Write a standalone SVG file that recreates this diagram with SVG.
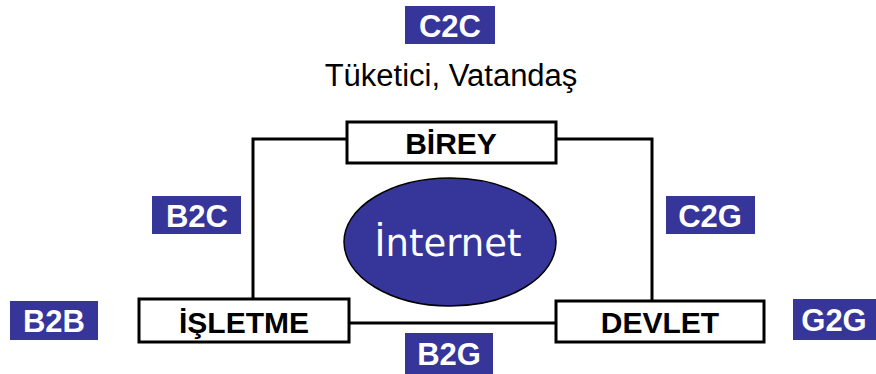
<svg xmlns="http://www.w3.org/2000/svg" width="876" height="374" viewBox="0 0 876 374">
<style>
.tag rect{fill:#35359a}
.tag text{fill:#fff;font-family:"Liberation Sans",Arial,sans-serif;font-weight:bold;font-size:31px;text-anchor:middle}
.node rect{fill:#fff;stroke:#000;stroke-width:3}
.node text{fill:#000;font-family:"Liberation Sans",Arial,sans-serif;font-weight:bold;font-size:30px;text-anchor:middle}
.conn{fill:none;stroke:#000;stroke-width:3}
</style>
<rect width="876" height="374" fill="#fff"/>
<g id="connectors">
<polyline class="conn" points="347,139 253,139 253,299"/>
<polyline class="conn" points="556,139 652,139 652,301"/>
<line class="conn" x1="349" y1="323" x2="556" y2="323"/>
</g>
<g id="internet">
<ellipse cx="450" cy="242" rx="106" ry="64" fill="#35359a" stroke="#000" stroke-width="1.5"/>
<text x="448" y="256" fill="#fff" font-family="'Comic Sans MS','DejaVu Sans',sans-serif" font-size="37" text-anchor="middle">İnternet</text>
</g>
<g id="birey" class="node"><rect x="347" y="122" width="209" height="41"/><text x="451" y="154">BİREY</text></g>
<g id="isletme" class="node"><rect x="139" y="299" width="210" height="43"/><text x="244" y="333">İŞLETME</text></g>
<g id="devlet" class="node"><rect x="556" y="301" width="208" height="41"/><text x="660" y="333">DEVLET</text></g>
<g id="c2c" class="tag"><rect x="405" y="6" width="90" height="38"/><text x="450" y="37">C2C</text></g>
<text id="tuketici" x="451" y="86" font-family="'Liberation Sans',Arial,sans-serif" font-size="31" text-anchor="middle">Tüketici, Vatandaş</text>
<g id="b2c" class="tag"><rect x="152" y="196" width="89" height="38"/><text x="197" y="227">B2C</text></g>
<g id="c2g" class="tag"><rect x="666" y="196" width="89" height="38"/><text x="710" y="227">C2G</text></g>
<g id="b2b" class="tag"><rect x="10" y="301" width="88" height="39"/><text x="54" y="332">B2B</text></g>
<g id="g2g" class="tag"><rect x="793" y="299" width="83" height="41"/><text x="834" y="331">G2G</text></g>
<g id="b2g" class="tag"><rect x="405" y="333" width="88" height="41"/><text x="449" y="365">B2G</text></g>
</svg>
